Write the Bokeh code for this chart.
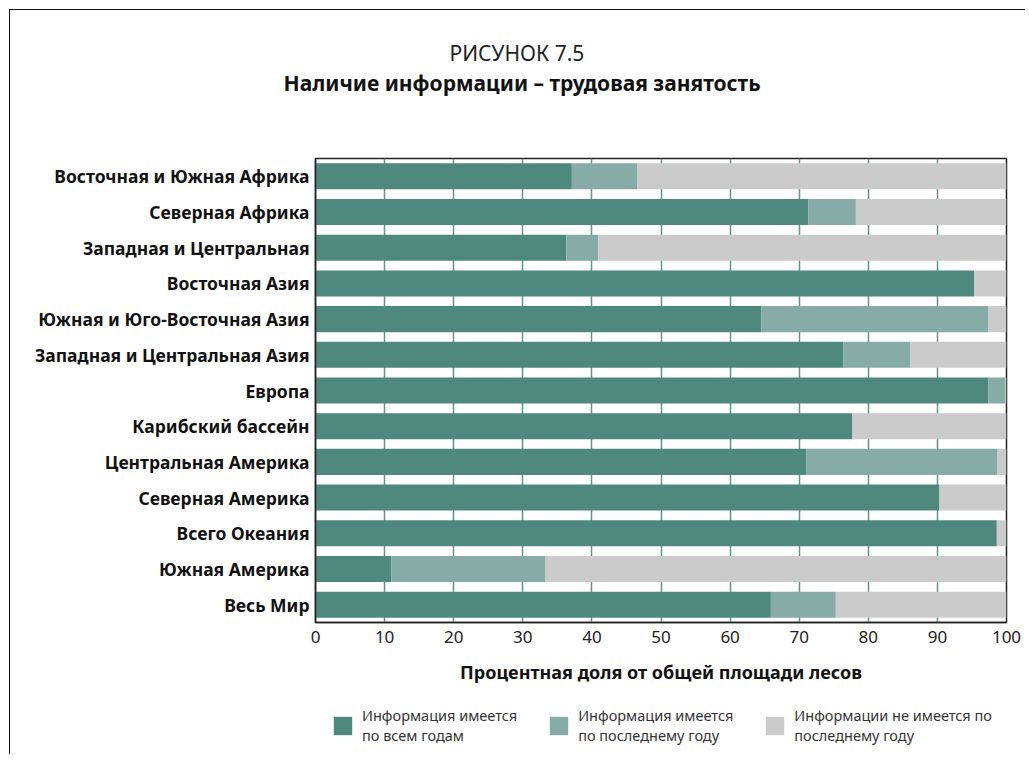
from bokeh.plotting import figure
from bokeh.layouts import column
from bokeh.models import Legend, LegendItem, FactorRange, Title
from bokeh.embed import file_html
from bokeh.resources import INLINE

regions = [
    "Восточная и Южная Африка",
    "Северная Африка",
    "Западная и Центральная",
    "Восточная Азия",
    "Южная и Юго-Восточная Азия",
    "Западная и Центральная Азия",
    "Европа",
    "Карибский бассейн",
    "Центральная Америка",
    "Северная Америка",
    "Всего Океания",
    "Южная Америка",
    "Весь Мир",
]
all_years = [37.1, 71.3, 36.3, 95.3, 64.5, 76.4, 97.4, 77.7, 71.0, 90.3, 98.6, 11.0, 65.9]
latest_year = [9.5, 6.9, 4.6, 0.0, 32.9, 9.7, 2.4, 0.0, 27.7, 0.0, 0.0, 22.3, 9.4]
no_info = [round(100 - a - b, 1) for a, b in zip(all_years, latest_year)]

series = ["all_years", "latest_year", "no_info"]
series_labels = ["Информация имеется\nпо всем годам",
                 "Информация имеется\nпо последнему году",
                 "Информации не имеется по\nпоследнему году"]
colors = ["#4f897e", "#87aca7", "#cbcbcb"]
x_ticks = [0, 10, 20, 30, 40, 50, 60, 70, 80, 90, 100]

FONT = "Noto Sans"
W = 1015

p = figure(width=W, height=682, output_backend="svg", toolbar_location=None,
           y_range=FactorRange(factors=list(reversed(regions)), range_padding=0),
           x_range=(0, 100),
           min_border_left=305, min_border_right=19, min_border_top=148,
           min_border_bottom=70)

data = dict(region=regions, all_years=all_years, latest_year=latest_year, no_info=no_info)
renderers = p.hbar_stack(series, y="region", height=0.73, color=colors, source=data,
                         line_color=None)

p.xaxis.ticker = x_ticks
p.xgrid.grid_line_color = "#5c968b"
p.xgrid.grid_line_width = 1.5
p.ygrid.grid_line_color = None
p.outline_line_color = "#222222"
p.outline_line_width = 1.5

p.xaxis.axis_line_color = "#222222"
p.xaxis.axis_line_width = 1.5
p.xaxis.major_tick_line_color = None
p.xaxis.minor_tick_line_color = None
p.xaxis.major_tick_out = 0
p.xaxis.major_tick_in = 0
p.xaxis.major_label_text_font = FONT
p.xaxis.major_label_text_font_size = "17px"
p.xaxis.major_label_text_color = "#222222"
p.xaxis.major_label_standoff = 8
p.xaxis.axis_label = "Процентная доля от общей площади лесов"
p.xaxis.axis_label_text_font = FONT
p.xaxis.axis_label_text_font_size = "18px"
p.xaxis.axis_label_text_font_style = "bold"
p.xaxis.axis_label_text_color = "#111111"
p.xaxis.axis_label_standoff = 14

p.yaxis.axis_line_color = "#222222"
p.yaxis.axis_line_width = 1.5
p.yaxis.major_tick_line_color = None
p.yaxis.minor_tick_line_color = None
p.yaxis.major_tick_out = 0
p.yaxis.major_tick_in = 0
p.yaxis.major_label_text_font = FONT
p.yaxis.major_label_text_font_size = "17.5px"
p.yaxis.major_label_text_font_style = "bold"
p.yaxis.major_label_text_color = "#111111"
p.yaxis.major_label_standoff = 6

p.title.text = "РИСУНОК 7.5"
p.title.text_font = FONT
p.title.text_font_size = "21px"
p.title.text_font_style = "normal"
p.title.text_color = "#222222"
p.title.align = "left"
p.title.offset = 134
p.title.standoff = 0

# empty spacer between the plot frame and the subtitle
spacer = Title(text=" ", text_font=FONT, text_font_size="21px", standoff=32)
p.add_layout(spacer, "above")
sub_title = Title(text="Наличие информации – трудовая занятость", text_font=FONT,
                  text_font_size="21px", text_font_style="bold", text_color="#111111",
                  align="left", offset=-32, standoff=0)
p.add_layout(sub_title, "above")

# legend panel (same data, hidden bars, only the legend is shown)
lg = figure(width=W, height=62, output_backend="svg", toolbar_location=None,
            x_axis_type=None, y_axis_type=None, x_range=(0, 100),
            y_range=FactorRange(factors=list(reversed(regions))),
            min_border=0, outline_line_color=None)
lg.xgrid.grid_line_color = None
lg.ygrid.grid_line_color = None
swatches = lg.hbar_stack(series, y="region", height=0.73, color=colors, source=data,
                         line_color=None)
for r in swatches:
    r.visible = False
legend = Legend(items=[LegendItem(label=lab, renderers=[r]) for lab, r in zip(series_labels, swatches)],
                orientation="horizontal", label_text_font=FONT, label_text_font_size="14.5px",
                label_text_color="#333333", label_text_line_height=1.1,
                glyph_width=23, glyph_height=23,
                spacing=30, border_line_color=None, background_fill_alpha=0,
                inactive_fill_alpha=0, click_policy="none",
                margin=0, padding=0, label_standoff=8, location=(16, 9))
lg.add_layout(legend, "center")

layout = column(p, lg, spacing=0)
layout.styles = {"border-top": "1.5px solid #111", "border-left": "1.5px solid #111",
                 "margin-left": "9px", "margin-top": "9px"}

open("out.html", "w").write(file_html(layout, INLINE))
